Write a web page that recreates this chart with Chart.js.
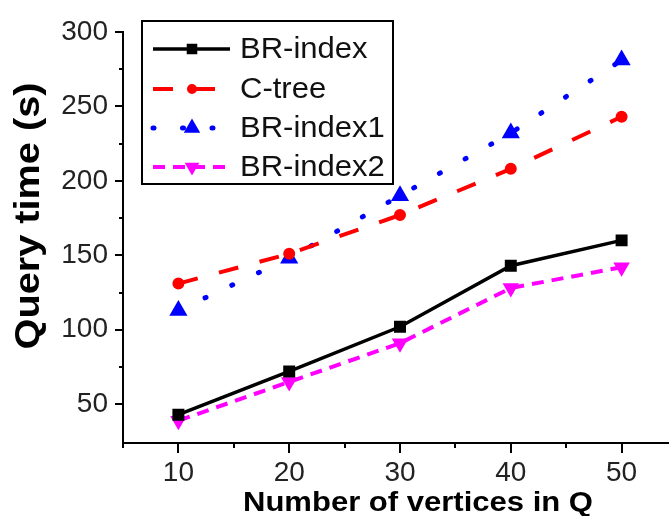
<!DOCTYPE html>
<html>
<head>
<meta charset="utf-8">
<script src="https://cdn.jsdelivr.net/npm/chart.js@4/dist/chart.umd.min.js"></script>
<style>
    html, body { margin: 0; padding: 0; background: #fff; }
    #wrap { width: 669px; height: 516px; overflow: hidden; }
</style>
</head>
<body>
<div id="wrap"><canvas id="chart" width="690" height="516"></canvas></div>
<script>
const vertices = [10, 20, 30, 40, 50];
const brIndex = [43, 72, 102, 143, 160];
const cTree = [131, 151, 177, 208, 243];
const brIndex1 = [113, 148, 190, 232, 281];
const brIndex2 = [39, 65, 91, 128, 142];
const seriesNames = ['BR-index', 'C-tree', 'BR-index1', 'BR-index2'];
const xTicks = [5, 10, 15, 20, 25, 30, 35, 40, 45, 50, 55];
const xTickLabels = [10, 20, 30, 40, 50];
const yTicks = [50, 75, 100, 125, 150, 175, 200, 225, 250, 275, 300];
const yTickLabels = [50, 100, 150, 200, 250, 300];

const FONT = "'Liberation Sans', Arial, sans-serif";

function points(values) {
    return vertices.map(function (x, i) { return { x: x, y: values[i] }; });
}

// minor/major tick marks drawn by hand so they can have two lengths
const tickMarks = {
    id: 'tickMarks',
    afterDraw(chart) {
        const ctx = chart.ctx;
        const xs = chart.scales.x, ys = chart.scales.y;
        const area = chart.chartArea;
        ctx.save();
        ctx.strokeStyle = '#000';
        ctx.lineWidth = 2;
        ctx.beginPath();
        xTicks.forEach(function (v) {
            const px = Math.round(xs.getPixelForValue(v));
            const len = xTickLabels.includes(v) ? 10 : 5;
            ctx.moveTo(px, area.bottom);
            ctx.lineTo(px, area.bottom + len);
        });
        yTicks.forEach(function (v) {
            const py = Math.round(ys.getPixelForValue(v));
            const len = yTickLabels.includes(v) ? 8 : 4;
            ctx.moveTo(area.left, py);
            ctx.lineTo(area.left - len, py);
        });
        ctx.stroke();
        ctx.restore();
    }
};

// axis titles, stretched a bit like the original scan
const axisTitles = {
    id: 'axisTitles',
    afterDraw(chart) {
        const ctx = chart.ctx;
        ctx.save();
        ctx.fillStyle = '#000';
        ctx.textAlign = 'center';
        ctx.textBaseline = 'alphabetic';

        ctx.font = 'bold 35px ' + FONT;
        let text = 'Query time (s)';
        let w = ctx.measureText(text).width;
        ctx.translate(39, 216);
        ctx.rotate(-Math.PI / 2);
        ctx.scale(267 / w, 1);
        ctx.fillText(text, 0, 0);
        ctx.restore();

        ctx.save();
        ctx.fillStyle = '#000';
        ctx.textAlign = 'center';
        ctx.textBaseline = 'alphabetic';
        ctx.font = 'bold 28px ' + FONT;
        text = 'Number of vertices in Q';
        w = ctx.measureText(text).width;
        ctx.translate(418, 511);
        ctx.scale(350 / w, 1);
        ctx.fillText(text, 0, 0);
        ctx.restore();
    }
};

// boxed legend in the top-left corner of the plot
const boxLegend = {
    id: 'boxLegend',
    afterDraw(chart) {
        const ctx = chart.ctx;
        const rows = [49, 89, 128, 167];
        ctx.save();
        ctx.fillStyle = '#fff';
        ctx.fillRect(142, 21, 251, 163);
        ctx.strokeStyle = '#000';
        ctx.lineWidth = 2;
        ctx.strokeRect(142, 21, 251, 163);

        chart.data.datasets.forEach(function (ds, i) {
            const y = rows[i];
            ctx.save();
            ctx.strokeStyle = ds.borderColor;
            ctx.lineWidth = ds.borderWidth;
            ctx.lineCap = ds.borderCapStyle || 'butt';
            ctx.setLineDash(ds.borderDash || []);
            ctx.beginPath();
            ctx.moveTo(153, y);
            ctx.lineTo(230, y);
            ctx.stroke();
            ctx.setLineDash([]);
            ctx.fillStyle = ds.backgroundColor;
            Chart.helpers.drawPoint(ctx, {
                pointStyle: ds.pointStyle,
                rotation: ds.pointRotation || 0,
                radius: ds.pointRadius - 1,
                borderWidth: 1
            }, 192, y);
            ctx.restore();

            ctx.save();
            ctx.fillStyle = '#111';
            ctx.font = '29px ' + FONT;
            ctx.textAlign = 'left';
            ctx.textBaseline = 'middle';
            ctx.translate(240, y + 1);
            ctx.scale(1.07, 1);
            ctx.fillText(ds.label, 0, 0);
            ctx.restore();
        });
        ctx.restore();
    }
};

window.addEventListener('load', function () {
    const ctx = document.getElementById('chart').getContext('2d');
    new Chart(ctx, {
        type: 'line',
        data: {
            datasets: [
                {
                    label: seriesNames[0],
                    data: points(brIndex),
                    borderColor: '#000',
                    backgroundColor: '#000',
                    borderWidth: 3.5,
                    pointStyle: 'rect',
                    pointRadius: 6
                },
                {
                    label: seriesNames[1],
                    data: points(cTree),
                    borderColor: '#ff0000',
                    backgroundColor: '#ff0000',
                    borderWidth: 4,
                    borderDash: [20, 22],
                    pointStyle: 'circle',
                    pointRadius: 4
                },
                {
                    label: seriesNames[2],
                    data: points(brIndex1),
                    borderColor: '#0000ff',
                    backgroundColor: '#0000ff',
                    borderWidth: 5,
                    borderDash: [1, 28.5],
                    borderCapStyle: 'round',
                    pointStyle: 'triangle',
                    pointRadius: 5.5
                },
                {
                    label: seriesNames[3],
                    data: points(brIndex2),
                    borderColor: '#ff00ff',
                    backgroundColor: '#ff00ff',
                    borderWidth: 4,
                    borderDash: [12, 8],
                    pointStyle: 'triangle',
                    pointRotation: 180,
                    pointRadius: 5.5
                }
            ]
        },
        options: {
            responsive: false,
            animation: false,
            layout: { padding: { top: 25, right: 7, bottom: 0, left: 0 } },
            elements: { line: { tension: 0 }, point: { borderWidth: 1 } },
            plugins: {
                legend: { display: false },
                tooltip: { enabled: false }
            },
            scales: {
                x: {
                    type: 'linear',
                    min: 5,
                    max: 55,
                    afterBuildTicks: function (scale) {
                        scale.ticks = xTicks.map(function (v) { return { value: v }; });
                    },
                    afterFit: function (scale) { scale.height = 516 - 443; },
                    grid: { drawOnChartArea: false, drawTicks: false },
                    border: { color: '#000', width: 2 },
                    ticks: {
                        autoSkip: false,
                        maxRotation: 0,
                        padding: 13,
                        color: '#222',
                        font: { family: FONT, size: 28 },
                        callback: function (v) { return xTickLabels.includes(v) ? String(v) : ''; }
                    }
                },
                y: {
                    min: 24,
                    max: 300,
                    afterBuildTicks: function (scale) {
                        scale.ticks = yTicks.map(function (v) { return { value: v }; });
                    },
                    afterFit: function (scale) { scale.width = 123; },
                    grid: { drawOnChartArea: false, drawTicks: false },
                    border: { color: '#000', width: 2 },
                    ticks: {
                        autoSkip: false,
                        padding: 15,
                        color: '#222',
                        font: { family: FONT, size: 28 },
                        callback: function (v) { return yTickLabels.includes(v) ? String(v) : ''; }
                    }
                }
            }
        },
        plugins: [tickMarks, axisTitles, boxLegend]
    });
});
</script>
</body>
</html>
